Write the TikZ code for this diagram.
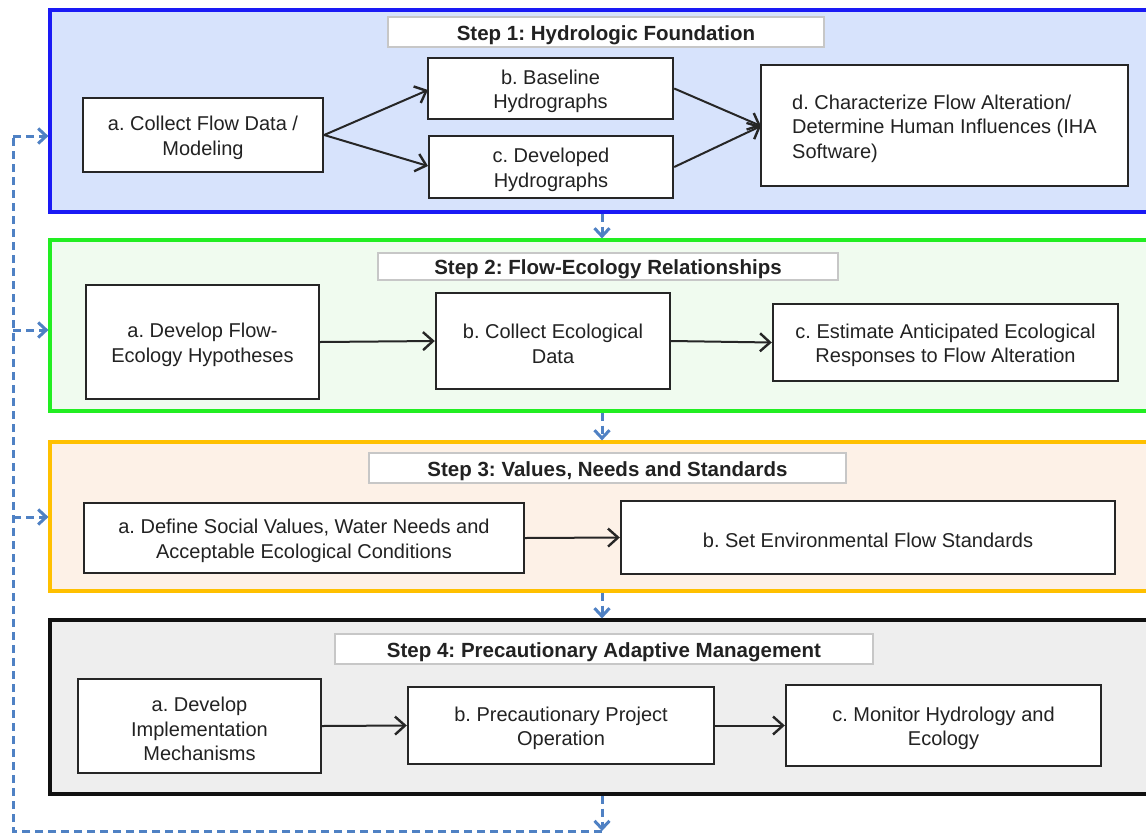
\documentclass[tikz,border=0pt]{standalone}
\usepackage{fontspec}
\setmainfont{Liberation Sans}
\usetikzlibrary{arrows.meta}
\frenchspacing
\newcommand\topgap{\rule{0pt}{20.5pt}}
\definecolor{p1fill}{HTML}{D7E3FC}
\definecolor{p1line}{HTML}{1A1AF5}
\definecolor{p2fill}{HTML}{F0FBEF}
\definecolor{p2line}{HTML}{22EE22}
\definecolor{p3fill}{HTML}{FDF1E7}
\definecolor{p3line}{HTML}{FFC000}
\definecolor{p4fill}{HTML}{EEEEEE}
\definecolor{p4line}{HTML}{111111}
\definecolor{fbblue}{HTML}{4F81C4}
\definecolor{txt}{HTML}{222222}
\tikzset{
  panel/.style={rectangle, line width=3.2pt, inner sep=0pt},
  titlebox/.style={rectangle, draw=black!22, fill=white, line width=1.4pt, inner sep=0pt,
    font=\fontsize{20.5}{24}\selectfont\bfseries, text=txt,
    execute at begin node={\rule{0pt}{21pt}}},
  box/.style={rectangle, draw=black!85, fill=white, line width=2.4pt, inner sep=0pt,
    align=center, font=\fontsize{20}{24.5}\selectfont, text=txt},
  conn/.style={draw=black!85, line width=2pt, -{Straight Barb[length=10pt,width=18pt,line width=2.4pt]}},
  fb/.style={draw=fbblue, line width=3pt, dash pattern=on 8pt off 5pt},
  fbarrow/.style={fb, -{Straight Barb[length=8pt,width=15pt,line width=3pt]}},
}
\begin{document}
\begin{tikzpicture}[x=1pt,y=-1pt]
\useasboundingbox (0,0) rectangle (1146,836);
\clip (0,0) rectangle (1146,836);
\fill[white] (0,0) rectangle (1146,836);

% panels
\node[panel, draw=p1line, fill=p1fill, minimum width=1110pt, minimum height=202pt] (p1) at (605,111) {};
\node[panel, draw=p2line, fill=p2fill, minimum width=1110pt, minimum height=171pt] (p2) at (605,325.5) {};
\node[panel, draw=p3line, fill=p3fill, minimum width=1110pt, minimum height=149pt] (p3) at (605,516.5) {};
\node[panel, draw=p4line, fill=p4fill, minimum width=1110pt, minimum height=174pt] (p4) at (605,707) {};

% titles
\node[titlebox, minimum width=436pt, minimum height=30pt] (t1) at (606,32) {Step 1: Hydrologic Foundation};
\node[titlebox, minimum width=460pt, minimum height=27pt] (t2) at (608,266.5) {Step 2: Flow-Ecology Relationships};
\node[titlebox, minimum width=477pt, minimum height=30pt] (t3) at (607.5,468) {Step 3: Values, Needs and Standards};
\node[titlebox, minimum width=538pt, minimum height=30pt] (t4) at (604,649) {Step 4: Precautionary Adaptive Management};

% step 1
\node[box, minimum width=240pt, minimum height=74pt] (s1a) at (203,135) {\topgap a. Collect Flow Data /\\Modeling};
\node[box, minimum width=245pt, minimum height=61pt] (s1b) at (550.5,88.5) {\topgap b. Baseline\\Hydrographs};
\node[box, minimum width=244pt, minimum height=62pt] (s1c) at (551,167) {\topgap c. Developed\\Hydrographs};
\node[box, minimum width=367pt, minimum height=121pt, align=left] (s1d) at (944.5,125.5) {\topgap d. Characterize Flow Alteration/\\Determine Human Influences (IHA\\Software)};
\coordinate (s1bin) at (428,90);
\coordinate (s1cin) at (428,166);
\coordinate (s1din) at (761,126);
\draw[conn] (s1a.east) -- (s1bin);
\draw[conn] (s1a.east) -- (s1cin);
\draw[conn] (s1b.east) -- (s1din);
\draw[conn] (s1c.east) -- (s1din);

% step 2
\node[box, minimum width=233pt, minimum height=114pt] (s2a) at (202.5,342) {\topgap a. Develop Flow-\\Ecology Hypotheses};
\node[box, minimum width=234pt, minimum height=96pt] (s2b) at (553,341) {\topgap b. Collect Ecological\\Data};
\node[box, minimum width=345pt, minimum height=77pt] (s2c) at (945.5,342.5) {\topgap c. Estimate Anticipated Ecological\\Responses to Flow Alteration};
\draw[conn] (s2a.east) -- (s2b.west);
\draw[conn] (s2b.east) -- (s2c.west);

% step 3
\node[box, minimum width=440pt, minimum height=70pt] (s3a) at (304,538) {\topgap a. Define Social Values, Water Needs and\\Acceptable Ecological Conditions};
\node[box, minimum width=494pt, minimum height=73pt] (s3b) at (868,537.5) {\topgap b. Set Environmental Flow Standards};
\draw[conn] (s3a.east) -- (s3b.west);

% step 4
\node[box, minimum width=243pt, minimum height=94pt] (s4a) at (199.5,726) {\topgap a. Develop\\Implementation\\Mechanisms};
\node[box, minimum width=306pt, minimum height=77pt] (s4b) at (561,725.5) {\topgap b. Precautionary Project\\Operation};
\node[box, minimum width=315pt, minimum height=81pt] (s4c) at (943.5,725.5) {\topgap c. Monitor Hydrology and\\Ecology};
\draw[conn] (s4a.east) -- (s4b.west);
\draw[conn] (s4b.east) -- (s4c.west);

% panel-to-panel dashed arrows
\coordinate (mx) at (602,0);
\draw[fbarrow] (p1.south -| mx) -- (p2.north -| mx);
\draw[fbarrow] (p2.south -| mx) -- (p3.north -| mx);
\draw[fbarrow] (p3.south -| mx) -- (p4.north -| mx);

% feedback loop
\coordinate (fbend) at (602,831);
\coordinate (fbcorner) at (13,831);
\coordinate (l1) at (13,136);
\coordinate (l2) at (13,330);
\coordinate (l3) at (13,517);
\draw[fbarrow] (p4.south -| mx) -- (fbend);
\draw[fb] (fbend) -- (fbcorner) -- (l1);
\draw[fbarrow] (l1) -- (l1 -| p1.west);
\draw[fbarrow] (l2) -- (l2 -| p2.west);
\draw[fbarrow] (l3) -- (l3 -| p3.west);
\end{tikzpicture}
\end{document}
